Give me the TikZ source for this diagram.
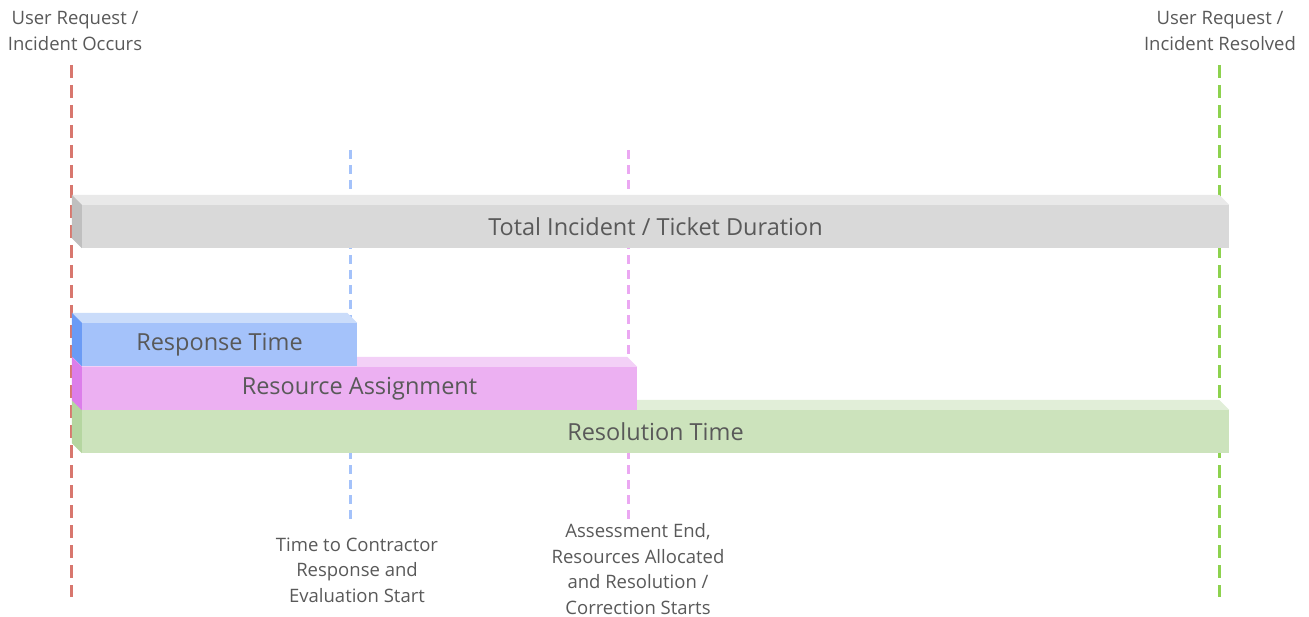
\documentclass[tikz,border=0pt]{standalone}
\usepackage{fontspec}
\setmainfont{Open Sans}

\definecolor{txtgray}{HTML}{595959}
\definecolor{grayfront}{HTML}{D9D9D9}
\definecolor{graytop}{HTML}{E9E9E9}
\definecolor{grayside}{HTML}{BFBFBF}
\definecolor{bluefront}{HTML}{A4C2FA}
\definecolor{bluetop}{HTML}{CADCFA}
\definecolor{blueside}{HTML}{6B9BF5}
\definecolor{pinkfront}{HTML}{ECB0F2}
\definecolor{pinktop}{HTML}{F3D0F7}
\definecolor{pinkside}{HTML}{DC7EEA}
\definecolor{greenfront}{HTML}{CCE3BC}
\definecolor{greentop}{HTML}{E1EED8}
\definecolor{greenside}{HTML}{B5D6A0}
\definecolor{reddash}{HTML}{D8776E}
\definecolor{greendash}{HTML}{8DD24E}
\definecolor{bluedash}{HTML}{A4C2FA}
\definecolor{pinkdash}{HTML}{EBA8F2}

\begin{document}
\begin{tikzpicture}
[
    x=1pt, y=-1pt,
    bar/.style={rectangle, inner sep=0pt, minimum height=43pt, text=txtgray,
        font=\fontsize{23.5}{28}\selectfont},
    note/.style={align=center, text=txtgray, font=\fontsize{18.5}{25.5}\selectfont},
    longdash/.style={line width=3pt, dash pattern=on 13pt off 7pt},
    shortdash/.style={line width=3pt, dash pattern=on 9pt off 6pt},
]
\useasboundingbox (0,0) rectangle (1309,617);

% timeline markers
\coordinate (occurs top) at (71,65);
\coordinate (occurs bottom) at (71,597);
\coordinate (resolved top) at (1219,65);
\coordinate (resolved bottom) at (1219,597);
\coordinate (response top) at (350,150);
\coordinate (response bottom) at (350,520);
\coordinate (assess top) at (628,150);
\coordinate (assess bottom) at (628,520);

\draw[longdash, reddash] (occurs top) -- (occurs bottom);
\draw[longdash, greendash] (resolved top) -- (resolved bottom);
\draw[shortdash, bluedash] (response top) -- (response bottom);
\draw[shortdash, pinkdash] (assess top) -- (assess bottom);

\node[note] (occurs) at (75,31) {User Request /\\Incident Occurs};
\node[note] (resolved) at (1220,31) {User Request /\\Incident Resolved};
\node[note] (response) at (357,570) {Time to Contractor\\Response and\\Evaluation Start};
\node[note] (assess) at (638,569) {Assessment End,\\Resources Allocated\\and Resolution /\\Correction Starts};

% total duration
\node[bar, fill=grayfront, minimum width=1147pt] (total) at (655.5,226.5) {Total Incident / Ticket Duration};
\fill[graytop] (total.north west) -- ++(-10,-10) -- ([shift={(-10,-10)}]total.north east) -- (total.north east) -- cycle;
\fill[grayside] (total.north west) -- ++(-10,-10) -- ([shift={(-10,-10)}]total.south west) -- (total.south west) -- cycle;

% resolution
\node[bar, fill=greenfront, minimum width=1147pt] (resolution) at (655.5,431.5) {Resolution Time};
\fill[greentop] (resolution.north west) -- ++(-10,-10) -- ([shift={(-10,-10)}]resolution.north east) -- (resolution.north east) -- cycle;
\fill[greenside] (resolution.north west) -- ++(-10,-10) -- ([shift={(-10,-10)}]resolution.south west) -- (resolution.south west) -- cycle;

% assignment
\node[bar, fill=pinkfront, minimum width=555pt] (assignment) at (359.5,388.5) {Resource Assignment};
\fill[pinktop] (assignment.north west) -- ++(-10,-10) -- ([shift={(-10,-10)}]assignment.north east) -- (assignment.north east) -- cycle;
\fill[pinkside] (assignment.north west) -- ++(-10,-10) -- ([shift={(-10,-10)}]assignment.south west) -- (assignment.south west) -- cycle;

% response
\node[bar, fill=bluefront, minimum width=275pt] (responsebar) at (219.5,344.5) {Response Time};
\fill[bluetop] (responsebar.north west) -- ++(-10,-10) -- ([shift={(-10,-10)}]responsebar.north east) -- (responsebar.north east) -- cycle;
\fill[blueside] (responsebar.north west) -- ++(-10,-10) -- ([shift={(-10,-10)}]responsebar.south west) -- (responsebar.south west) -- cycle;
\end{tikzpicture}
\end{document}
